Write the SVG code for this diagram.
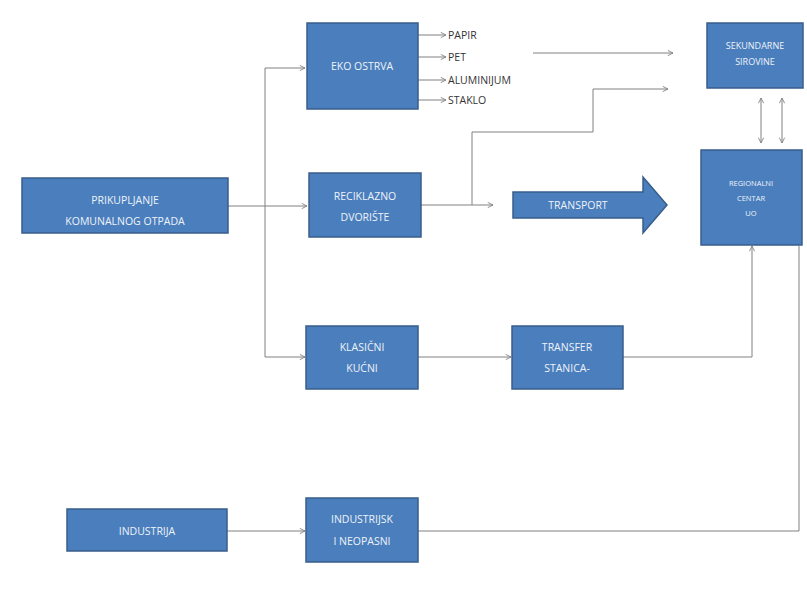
<svg xmlns="http://www.w3.org/2000/svg" width="807" height="599" viewBox="0 0 807 599">
<style>
.box{fill:#4a7ebc;stroke:#385d8a;stroke-width:1.5}
.bt{font-family:"Open Sans","Liberation Sans",sans-serif;font-size:10.5px;fill:#eef3fa;text-anchor:middle;text-transform:uppercase}
.sm{font-size:7.5px}
.lbl{font-family:"Open Sans","Liberation Sans",sans-serif;font-size:10.5px;fill:#333333}
.ln{fill:none;stroke:#808080;stroke-width:1}
</style>
<defs>
<marker id="ah" viewBox="0 0 8 8" refX="7" refY="4" markerWidth="7" markerHeight="7" orient="auto-start-reverse" markerUnits="userSpaceOnUse">
<path d="M1,1 L7,4 L1,7" fill="none" stroke="#808080" stroke-width="1"/>
</marker>
</defs>
<rect width="807" height="599" fill="#ffffff"/>
<g id="connectors">
<polyline class="ln" points="265,357 265,68 305,68" marker-end="url(#ah)"/>
<line class="ln" x1="228" y1="206" x2="307" y2="206" marker-end="url(#ah)"/>
<line class="ln" x1="265" y1="357" x2="305" y2="357" marker-end="url(#ah)"/>
<line class="ln" x1="418" y1="35" x2="446" y2="35" marker-end="url(#ah)"/>
<line class="ln" x1="418" y1="57" x2="446" y2="57" marker-end="url(#ah)"/>
<line class="ln" x1="418" y1="80" x2="446" y2="80" marker-end="url(#ah)"/>
<line class="ln" x1="418" y1="100" x2="446" y2="100" marker-end="url(#ah)"/>
<line class="ln" x1="533" y1="53" x2="673" y2="53" marker-end="url(#ah)"/>
<line class="ln" x1="421" y1="205" x2="493" y2="205" marker-end="url(#ah)"/>
<polyline class="ln" points="472,205 472,132 593,132 593,89 668,89" marker-end="url(#ah)"/>
<line class="ln" x1="761" y1="98" x2="761" y2="143" marker-start="url(#ah)" marker-end="url(#ah)"/>
<line class="ln" x1="782" y1="98" x2="782" y2="143" marker-start="url(#ah)" marker-end="url(#ah)"/>
<line class="ln" x1="418" y1="357" x2="511" y2="357" marker-end="url(#ah)"/>
<polyline class="ln" points="623,357 752,357 752,246" marker-end="url(#ah)"/>
<line class="ln" x1="227" y1="531" x2="305" y2="531" marker-end="url(#ah)"/>
<polyline class="ln" points="418,531 799,531 799,246"/>
</g>
<g id="prikupljanje"><rect class="box" x="22" y="178" width="206" height="55"/><text class="bt" x="125" y="204">PRIKUPLJANJE</text><text class="bt" x="125" y="225">KOMUNALNOG OTPADA</text></g>
<g id="eko"><rect class="box" x="307" y="23" width="111" height="86"/><text class="bt" x="362" y="70">EKO OSTRVA</text></g>
<g id="outputs"><text class="lbl" x="448" y="39">PAPIR</text><text class="lbl" x="448" y="61">PET</text><text class="lbl" x="448" y="84">ALUMINIJUM</text><text class="lbl" x="448" y="104">STAKLO</text></g>
<g id="sekundarne"><rect class="box" x="707" y="23" width="96" height="65"/><text class="bt" x="755" y="49" style="font-size:9px">SEKUNDARNE</text><text class="bt" x="755" y="65" style="font-size:9px">SIROVINE</text></g>
<g id="reciklazno"><rect class="box" x="309" y="173" width="112" height="64"/><text class="bt" x="365" y="200">RECIKLAZNO</text><text class="bt" x="365" y="221">DVORIŠTE</text></g>
<g id="transport"><path class="box" d="M513,192 L643,192 L643,177 L667,205 L643,233 L643,218 L513,218 Z"/><text class="bt" x="578" y="209">TRANSPORT</text></g>
<g id="regionalni"><rect class="box" x="701" y="150" width="101" height="95"/><text class="bt sm" x="751" y="186">REGIONALNI</text><text class="bt sm" x="751" y="201">CENTAR</text><text class="bt sm" x="751" y="216">UO</text></g>
<g id="klasicni"><rect class="box" x="306" y="326" width="112" height="63"/><text class="bt" x="362" y="351">KLASIČNI</text><text class="bt" x="362" y="372">KUĆNI</text></g>
<g id="transfer"><rect class="box" x="512" y="326" width="111" height="63"/><text class="bt" x="567" y="351">TRANSFER</text><text class="bt" x="567" y="372">STANICA-</text></g>
<g id="industrija"><rect class="box" x="67" y="509" width="160" height="42"/><text class="bt" x="147" y="535">INDUSTRIJA</text></g>
<g id="industrijsk"><rect class="box" x="306" y="498" width="112" height="64"/><text class="bt" x="362" y="523">INDUSTRIJSK</text><text class="bt" x="362" y="545">I NEOPASNI</text></g>
</svg>
